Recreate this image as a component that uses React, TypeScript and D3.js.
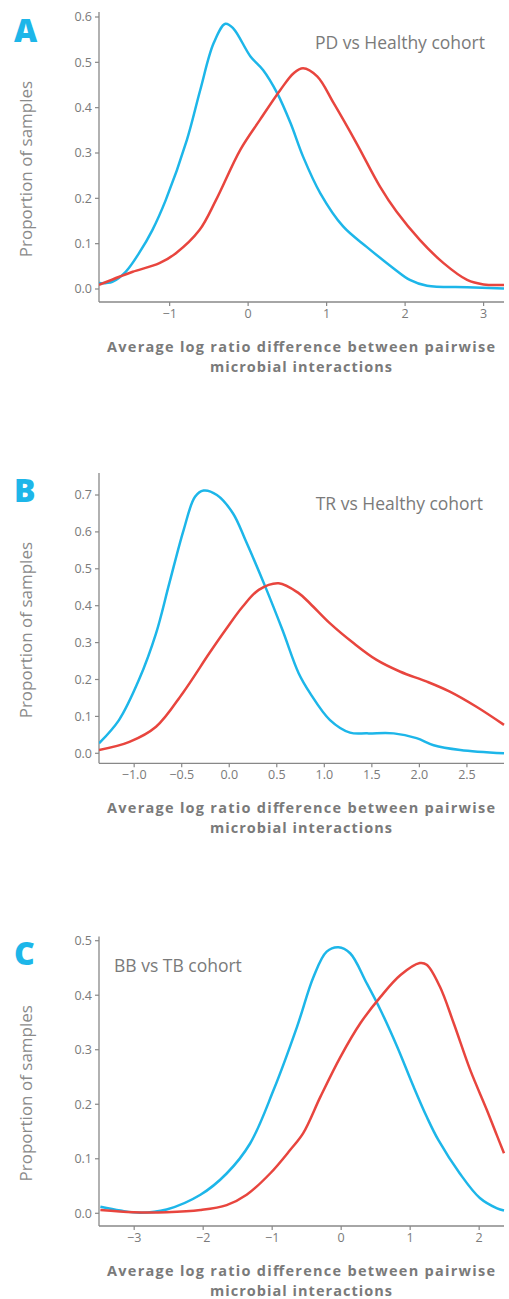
import React, { useEffect, useRef } from "react";
import * as d3 from "d3";

// ---- data ----
const panelLetters = ["A", "B", "C"];
const panelTitles = ["PD vs Healthy cohort", "TR vs Healthy cohort", "BB vs TB cohort"];
const xLabelLines = ["Average log ratio difference between pairwise", "microbial interactions"];

const xTicksA = [-1, 0, 1, 2, 3];
const xTicksB = [-1.0, -0.5, 0.0, 0.5, 1.0, 1.5, 2.0, 2.5];
const xTicksC = [-3, -2, -1, 0, 1, 2];
const yTicksA = [0, 0.1, 0.2, 0.3, 0.4, 0.5, 0.6];
const yTicksB = [0, 0.1, 0.2, 0.3, 0.4, 0.5, 0.6, 0.7];
const yTicksC = [0, 0.1, 0.2, 0.3, 0.4, 0.5];

// [x, proportion]
const blueA: [number, number][] = [
  [-1.9, 0.013], [-1.73, 0.016], [-1.56, 0.038], [-1.39, 0.079], [-1.22, 0.13],
  [-1.05, 0.196], [-0.78, 0.329], [-0.61, 0.439], [-0.44, 0.542], [-0.29, 0.585],
  [-0.19, 0.575], [0.03, 0.513], [0.19, 0.483], [0.37, 0.432], [0.54, 0.366],
  [0.7, 0.292], [0.92, 0.211], [1.21, 0.138], [1.51, 0.093], [1.85, 0.046],
  [2.06, 0.02], [2.28, 0.007], [2.79, 0.004], [3.26, 0.001],
];
const redA: [number, number][] = [
  [-1.9, 0.009], [-1.64, 0.027], [-1.47, 0.038], [-1.13, 0.057], [-0.92, 0.079],
  [-0.62, 0.13], [-0.41, 0.196], [-0.1, 0.307], [0.15, 0.373], [0.41, 0.439],
  [0.58, 0.476], [0.7, 0.487], [0.88, 0.469], [1.09, 0.41], [1.38, 0.322],
  [1.68, 0.226], [1.89, 0.171], [2.19, 0.108], [2.49, 0.057], [2.79, 0.02],
  [3.0, 0.01], [3.26, 0.009],
];
const blueB: [number, number][] = [
  [-1.37, 0.027], [-1.16, 0.09], [-0.95, 0.199], [-0.77, 0.325], [-0.63, 0.461],
  [-0.48, 0.605], [-0.36, 0.695], [-0.27, 0.712], [-0.13, 0.7], [0.04, 0.65],
  [0.17, 0.578], [0.38, 0.451], [0.56, 0.334], [0.73, 0.217], [0.85, 0.163],
  [1.06, 0.09], [1.27, 0.056], [1.45, 0.054], [1.73, 0.054], [1.97, 0.041],
  [2.15, 0.022], [2.43, 0.009], [2.89, 0.0],
];
const redB: [number, number][] = [
  [-1.37, 0.009], [-1.05, 0.031], [-0.77, 0.072], [-0.49, 0.163], [-0.21, 0.271],
  [-0.04, 0.334], [0.14, 0.397], [0.31, 0.443], [0.52, 0.461], [0.73, 0.434],
  [0.85, 0.406], [1.06, 0.352], [1.31, 0.298], [1.55, 0.253], [1.8, 0.221],
  [2.08, 0.194], [2.32, 0.167], [2.6, 0.126], [2.89, 0.077],
];
const blueC: [number, number][] = [
  [-3.49, 0.012], [-3.2, 0.005], [-2.91, 0.001], [-2.53, 0.007], [-2.04, 0.034],
  [-1.66, 0.073], [-1.32, 0.128], [-0.98, 0.226], [-0.64, 0.342], [-0.4, 0.434],
  [-0.21, 0.48], [-0.04, 0.488], [0.13, 0.477], [0.37, 0.422], [0.57, 0.373],
  [0.81, 0.306], [1.05, 0.232], [1.24, 0.177], [1.41, 0.134], [1.72, 0.073],
  [2.01, 0.028], [2.26, 0.009], [2.36, 0.005],
];
const redC: [number, number][] = [
  [-3.49, 0.006], [-3.01, 0.002], [-2.53, 0.002], [-2.04, 0.006], [-1.66, 0.015],
  [-1.37, 0.034], [-1.03, 0.073], [-0.74, 0.116], [-0.55, 0.147], [-0.3, 0.214],
  [-0.01, 0.287], [0.28, 0.349], [0.57, 0.397], [0.86, 0.437], [1.14, 0.459],
  [1.24, 0.456], [1.43, 0.416], [1.63, 0.349], [1.87, 0.263], [2.11, 0.19],
  [2.26, 0.142], [2.36, 0.11],
];

const BLUE = "#1db6e9";
const RED = "#e8453e";
const GREY = "#7a7a7a";
const FONT = "'Open Sans', Lato, sans-serif";

// layout per panel (pixels)
const panels = [
  { xDom: [-1.9, 3.26], yMax: 0.6, y0: 289, yTop: 17, axisY: 302, spineTop: 12, letterY: 42, titleY: 49, titleX: 485, anchor: "end", xTicks: xTicksA, yTicks: yTicksA, fmtX: "d", blue: blueA, red: redA },
  { xDom: [-1.37, 2.89], yMax: 0.7, y0: 753.3, yTop: 495, axisY: 763.3, spineTop: 473, letterY: 502, titleY: 510, titleX: 483, anchor: "end", xTicks: xTicksB, yTicks: yTicksB, fmtX: ".1f", blue: blueB, red: redB },
  { xDom: [-3.51, 2.36], yMax: 0.5, y0: 1213.3, yTop: 940.7, axisY: 1226, spineTop: 936.5, letterY: 965, titleY: 972, titleX: 114, anchor: "start", xTicks: xTicksC, yTicks: yTicksC, fmtX: "d", blue: blueC, red: redC },
];

const X0 = 99;
const X1 = 504;

const Panel = ({ p, i }: { p: any; i: number }) => {
  const gRef = useRef<SVGGElement>(null);

  useEffect(() => {
    const g = d3.select(gRef.current);
    g.selectAll("*").remove();

    const x = d3.scaleLinear().domain(p.xDom).range([X0, X1]);
    const y = d3.scaleLinear().domain([0, p.yMax]).range([p.y0, p.yTop]);
    const fx = d3.format(p.fmtX);
    const minus = (s: string) => s.replace("-", "\u2212");

    // clip to plot area
    const clipId = `clip${i}`;
    g.append("clipPath").attr("id", clipId)
      .append("rect").attr("x", X0).attr("y", p.spineTop).attr("width", X1 - X0 + 2).attr("height", p.axisY - p.spineTop);

    // spines
    g.append("line").attr("x1", X0).attr("x2", X0).attr("y1", p.spineTop).attr("y2", p.axisY)
      .attr("stroke", "#888").attr("stroke-width", 1.3);
    g.append("line").attr("x1", X0).attr("x2", X1).attr("y1", p.axisY).attr("y2", p.axisY)
      .attr("stroke", "#888").attr("stroke-width", 1.3);

    // y ticks
    p.yTicks.forEach((t: number) => {
      g.append("line").attr("x1", X0 - 4).attr("x2", X0).attr("y1", y(t)).attr("y2", y(t))
        .attr("stroke", "#888").attr("stroke-width", 1.2);
      g.append("text").attr("x", X0 - 7).attr("y", y(t)).attr("dy", "0.35em")
        .attr("text-anchor", "end").attr("font-size", 12.5).attr("fill", GREY)
        .attr("font-family", FONT).text(d3.format(".1f")(t));
    });
    // x ticks
    p.xTicks.forEach((t: number) => {
      g.append("line").attr("x1", x(t)).attr("x2", x(t)).attr("y1", p.axisY).attr("y2", p.axisY + 4)
        .attr("stroke", "#888").attr("stroke-width", 1.2);
      g.append("text").attr("x", x(t)).attr("y", p.axisY + 16)
        .attr("text-anchor", "middle").attr("font-size", 12.5).attr("fill", GREY)
        .attr("font-family", FONT).text(minus(fx(t)));
    });

    const line = d3.line<[number, number]>()
      .x((d) => x(d[0])).y((d) => y(d[1]))
      .curve(d3.curveCatmullRom.alpha(0.5));

    const plot = g.append("g").attr("clip-path", `url(#${clipId})`);
    plot.append("path").attr("d", line(p.blue)).attr("fill", "none")
      .attr("stroke", BLUE).attr("stroke-width", 2.5);
    plot.append("path").attr("d", line(p.red)).attr("fill", "none")
      .attr("stroke", RED).attr("stroke-width", 2.5);

    // panel letter
    g.append("text").attr("x", 14).attr("y", p.letterY).attr("font-size", 32)
      .attr("font-weight", 800).attr("fill", BLUE).attr("font-family", FONT).text(panelLetters[i]);

    // title
    g.append("text").attr("x", p.titleX).attr("y", p.titleY).attr("text-anchor", p.anchor)
      .attr("font-size", 17.5).attr("fill", GREY).attr("font-family", FONT).text(panelTitles[i]);

    // y label
    const yMid = (p.spineTop + p.axisY) / 2 + 12;
    g.append("text").attr("transform", `translate(32,${yMid}) rotate(-90)`)
      .attr("text-anchor", "middle").attr("font-size", 17).attr("fill", "#8a8a8a")
      .attr("font-family", FONT).text("Proportion of samples");

    // x label, stretched to the reference width
    const widths = [388, 182];
    xLabelLines.forEach((s, k) => {
      g.append("text").attr("x", 301 - widths[k] / 2).attr("y", p.axisY + 49.5 + k * 20)
        .attr("textLength", widths[k]).attr("lengthAdjust", "spacing")
        .attr("font-size", 14.5).attr("font-weight", 700).attr("fill", GREY).attr("font-family", FONT)
        .text(s);
    });
  }, [p, i]);

  return <g ref={gRef}></g>;
};

export default function App() {
  return (
    <svg width={509} height={1299} style={{ position: "absolute", left: 0, top: 0, background: "#fff" }}>
      {panels.map((p, i) => (
        <Panel key={i} p={p} i={i} />
      ))}
    </svg>
  );
}
